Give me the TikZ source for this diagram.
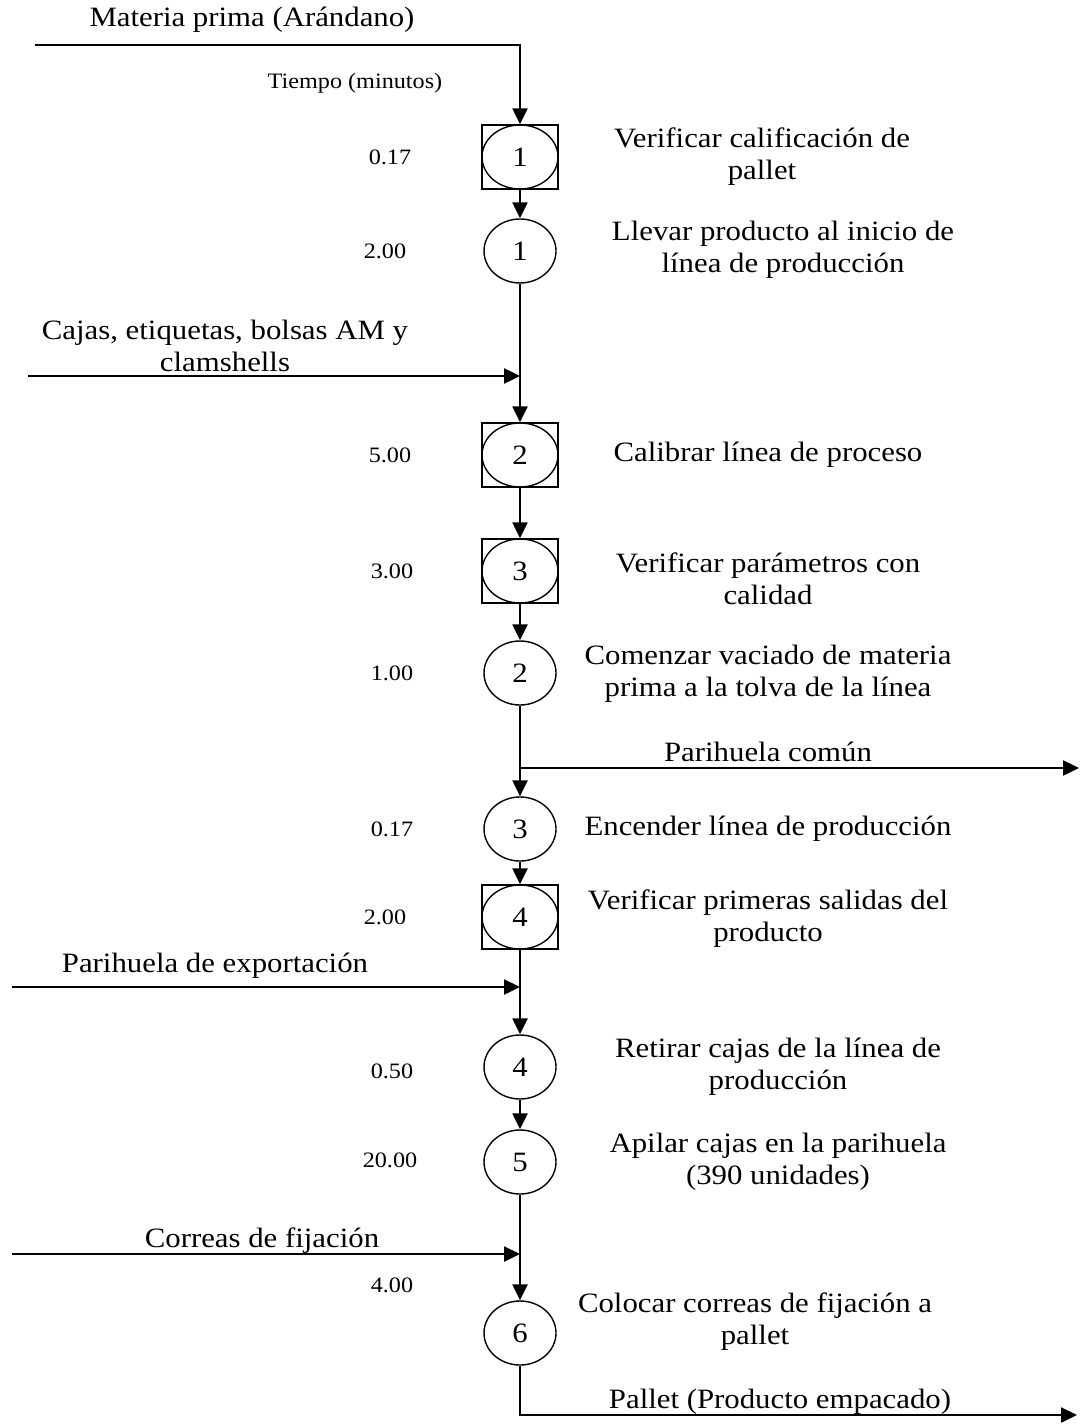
\documentclass[tikz,border=0pt]{standalone}
\usepackage{fontspec}
\setmainfont{Liberation Serif}[FakeStretch=1.1]
\usetikzlibrary{arrows.meta,shapes.geometric}
\begin{document}
\begin{tikzpicture}[x=0.5pt,y=-0.5pt,
 op/.style={ellipse,draw,line width=0.7pt,minimum width=36pt,minimum height=32pt,inner sep=0pt,font=\fontsize{14}{16}\selectfont},
 opin/.style={ellipse,draw,line width=0.7pt,minimum width=38pt,minimum height=32pt,inner sep=0pt,font=\fontsize{14}{16}\selectfont},
 insp/.style={rectangle,draw,line width=0.7pt,minimum width=38pt,minimum height=32pt,inner sep=0pt},
 flow/.style={line width=1.2pt,-{Triangle[length=8pt,width=7.5pt]}},
 plain/.style={line width=1.2pt},
 lbl/.style={font=\fontsize{14}{16}\selectfont,align=center,inner sep=0pt},
 tm/.style={font=\fontsize{11}{13}\selectfont,inner sep=0pt}]
\useasboundingbox (0,0) rectangle (1080,1427);

% process symbols
\node[insp] (b1) at (520,157) {};
\node[opin] (e1) at (520,157) {1};
\node[op] (o1) at (520,251) {1};
\node[insp] (b2) at (520,455) {};
\node[opin] (e2) at (520,455) {2};
\node[insp] (b3) at (520,571) {};
\node[opin] (e3) at (520,571) {3};
\node[op] (o2) at (520,673) {2};
\node[op] (o3) at (520,829) {3};
\node[insp] (b4) at (520,917) {};
\node[opin] (e4) at (520,917) {4};
\node[op] (o4) at (520,1067) {4};
\node[op] (o5) at (520,1162) {5};
\node[op] (o6) at (520,1333) {6};

% times
\node[tm] (tt) at (355,83) {Tiempo (minutos)};
\node[tm] (t1) at (390,157) {0.17};
\node[tm] (t2) at (385,251) {2.00};
\node[tm] (t3) at (390,455) {5.00};
\node[tm] (t4) at (392,571) {3.00};
\node[tm] (t5) at (392,673) {1.00};
\node[tm] (t6) at (392,829) {0.17};
\node[tm] (t7) at (385,917) {2.00};
\node[tm] (t8) at (392,1071) {0.50};
\node[tm] (t9) at (390,1160) {20.00};
\node[tm] (t10) at (392,1285) {4.00};

% descriptions
\node[lbl] (d1) at (762,157) {Verificar calificación de\\pallet};
\node[lbl] (d2) at (783,250) {Llevar producto al inicio de\\línea de producción};
\node[lbl] (d3) at (768,455) {Calibrar línea de proceso};
\node[lbl] (d4) at (768,579) {Verificar parámetros con\\calidad};
\node[lbl] (d5) at (768,674) {Comenzar vaciado de materia\\prima a la tolva de la línea};
\node[lbl] (d6) at (768,829) {Encender línea de producción};
\node[lbl] (d7) at (768,919) {Verificar primeras salidas del\\producto};
\node[lbl] (d8) at (778,1067) {Retirar cajas de la línea de\\producción};
\node[lbl] (d9) at (778,1162) {Apilar cajas en la parihuela\\(390 unidades)};
\node[lbl] (d10) at (755,1322) {Colocar correas de fijación a\\pallet};

% input/output labels
\node[lbl] (l0) at (252,20) {Materia prima (Arándano)};
\node[lbl] (l1) at (225,346) {Cajas, etiquetas, bolsas AM y\\clamshells};
\node[lbl] (l2) at (768,752) {Parihuela común};
\node[lbl] (l3) at (215,966) {Parihuela de exportación};
\node[lbl] (l4) at (262,1241) {Correas de fijación};
\node[lbl] (l5) at (780,1402) {Pallet (Producto empacado)};

% coordinates
\coordinate (in0) at (35,45);
\coordinate (c0) at (520,45);
\coordinate (in1) at (28,376);
\coordinate (j1) at (520,376);
\coordinate (j2) at (520,768);
\coordinate (out1) at (1079,768);
\coordinate (in2) at (12,987);
\coordinate (j3) at (520,987);
\coordinate (in3) at (12,1254);
\coordinate (j4) at (520,1254);
\coordinate (c1) at (520,1415);
\coordinate (out2) at (1077,1415);

% connectors
\draw[flow] (in0) -- (c0) -- (b1.north);
\draw[flow] (b1.south) -- (o1.north);
\draw[plain] (o1.south) -- (j1);
\draw[flow] (in1) -- (j1);
\draw[flow] (j1) -- (b2.north);
\draw[flow] (b2.south) -- (b3.north);
\draw[flow] (b3.south) -- (o2.north);
\draw[plain] (o2.south) -- (j2);
\draw[flow] (j2) -- (out1);
\draw[flow] (j2) -- (o3.north);
\draw[flow] (o3.south) -- (b4.north);
\draw[plain] (b4.south) -- (j3);
\draw[flow] (in2) -- (j3);
\draw[flow] (j3) -- (o4.north);
\draw[flow] (o4.south) -- (o5.north);
\draw[plain] (o5.south) -- (j4);
\draw[flow] (in3) -- (j4);
\draw[flow] (j4) -- (o6.north);
\draw[flow] (o6.south) -- (c1) -- (out2);
\end{tikzpicture}
\end{document}
